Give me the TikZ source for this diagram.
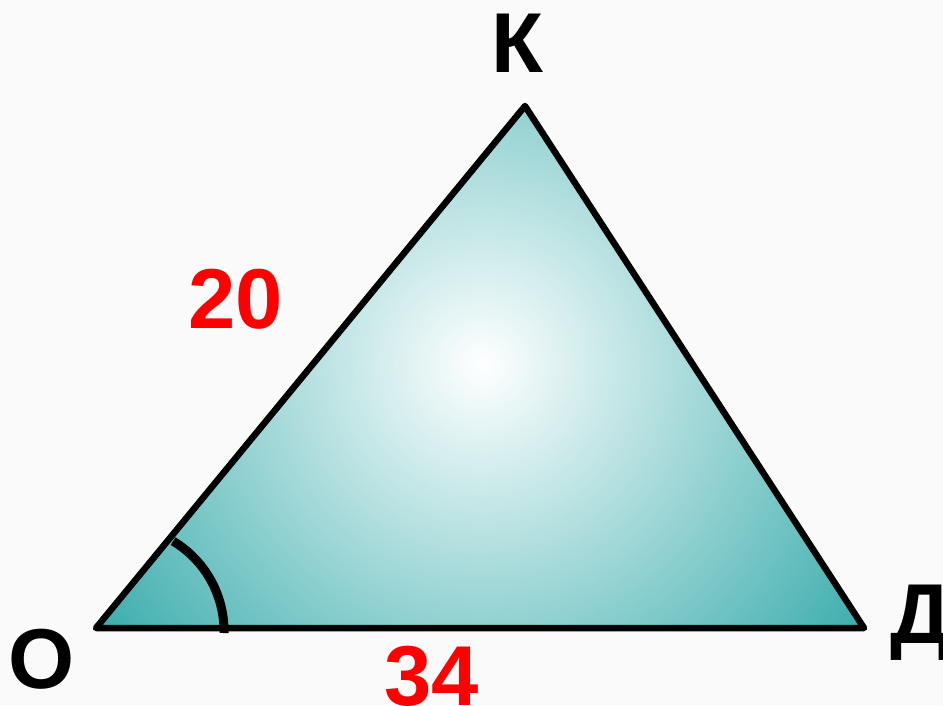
\documentclass[tikz,border=0pt]{standalone}
\usepackage{fontspec}
\setmainfont{Liberation Sans}
\definecolor{bg}{RGB}{250,250,250}
\definecolor{tealfill}{RGB}{58,172,172}
\definecolor{redlbl}{RGB}{255,0,0}
\begin{document}
\begin{tikzpicture}[x=1pt,y=1pt,
  lbl/.style={font=\fontsize{85}{85}\selectfont\bfseries, inner sep=0pt, anchor=base},
  num/.style={lbl, text=redlbl},
  edge/.style={line width=6.5pt, line join=round, line cap=round}]
\fill[bg] (0,0) rectangle (943,705);
\useasboundingbox (0,0) rectangle (943,705);
\coordinate (O) at (96,77);
\coordinate (K) at (525,599);
\coordinate (D) at (864,77);
\begin{scope}
  \clip (O) -- (K) -- (D) -- cycle;
  \shade[inner color=white, outer color=tealfill] (482,340) circle (470);
\end{scope}
\draw[edge] (O) -- (K) -- (D) -- cycle;
\coordinate (A1) at (224,72);
\draw[line width=9pt] (A1) arc[start angle=-1, end angle=59, radius=105];
\node[lbl] (lK) at (517,632) {К};
\node[lbl] (lO) at (42,17) {О};
\node[lbl, anchor=base west] (lD) at (890,62) {Д};
\node[num] (l20) at (236,376) {20};
\node[num] (l34) at (432,0) {34};
\end{tikzpicture}
\end{document}
